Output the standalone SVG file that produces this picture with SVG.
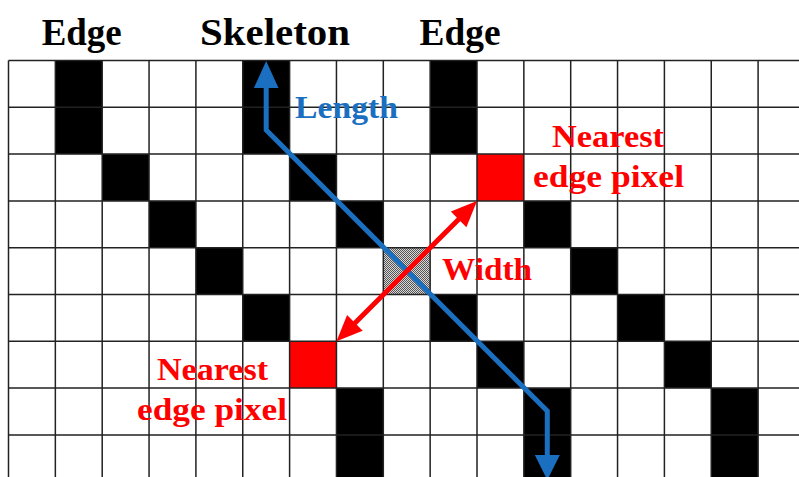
<svg xmlns="http://www.w3.org/2000/svg" width="799" height="477" viewBox="0 0 799 477">
  <defs>
    <pattern id="dither" x="0" y="0" width="2" height="2" patternUnits="userSpaceOnUse">
      <rect width="2" height="2" fill="#d8d8d8"/>
      <rect width="1" height="1" fill="#555"/>
      <rect x="1" y="1" width="1" height="1" fill="#555"/>
    </pattern>
  </defs>
  <style>
    .blk { fill: #000; }
    .red { fill: #ff0000; }
    .grid { stroke: #222; stroke-width: 1.5; fill: none; }
    .hdr { font-family: "Liberation Serif", "Times New Roman", serif; font-weight: bold; font-size: 38px; fill: #000; }
    .lbl { font-family: "Liberation Serif", "Times New Roman", serif; font-weight: bold; font-size: 32px; }
    .rtxt { fill: #ff0000; }
    .btxt { fill: #1b6fc0; }
  </style>
  <rect width="799" height="477" fill="#fff"/>

  <!-- cells -->
  <g id="edge-left">
    <rect class="blk" x="55.35" y="60.5" width="46.85" height="93.6"/>
    <rect class="blk" x="102.2" y="154.1" width="46.85" height="46.8"/>
    <rect class="blk" x="149.05" y="200.9" width="46.85" height="46.8"/>
    <rect class="blk" x="195.9" y="247.7" width="46.85" height="46.8"/>
    <rect class="blk" x="242.75" y="294.5" width="46.85" height="46.8"/>
    <rect class="red" x="289.6" y="341.3" width="46.85" height="46.8"/>
    <rect class="blk" x="336.45" y="388.1" width="46.85" height="95"/>
  </g>
  <g id="skeleton">
    <rect class="blk" x="242.75" y="60.5" width="46.85" height="93.6"/>
    <rect class="blk" x="289.6" y="154.1" width="46.85" height="46.8"/>
    <rect class="blk" x="336.45" y="200.9" width="46.85" height="46.8"/>
    <rect fill="url(#dither)" x="383.3" y="247.7" width="46.85" height="46.8"/>
    <rect class="blk" x="430.15" y="294.5" width="46.85" height="46.8"/>
    <rect class="blk" x="477" y="341.3" width="46.85" height="46.8"/>
    <rect class="blk" x="523.85" y="388.1" width="46.85" height="95"/>
  </g>
  <g id="edge-right">
    <rect class="blk" x="430.15" y="60.5" width="46.85" height="93.6"/>
    <rect class="red" x="477" y="154.1" width="46.85" height="46.8"/>
    <rect class="blk" x="523.85" y="200.9" width="46.85" height="46.8"/>
    <rect class="blk" x="570.7" y="247.7" width="46.85" height="46.8"/>
    <rect class="blk" x="617.55" y="294.5" width="46.85" height="46.8"/>
    <rect class="blk" x="664.4" y="341.3" width="46.85" height="46.8"/>
    <rect class="blk" x="711.25" y="388.1" width="46.85" height="95"/>
  </g>

  <!-- grid -->
  <g id="grid" class="grid">
    <path d="M8.5,60.5V480 M55.35,60.5V480 M102.2,60.5V480 M149.05,60.5V480 M195.9,60.5V480 M242.75,60.5V480 M289.6,60.5V480 M336.45,60.5V480 M383.3,60.5V480 M430.15,60.5V480 M477,60.5V480 M523.85,60.5V480 M570.7,60.5V480 M617.55,60.5V480 M664.4,60.5V480 M711.25,60.5V480 M758.1,60.5V480"/>
    <path d="M8.5,60.5H802 M8.5,107.3H802 M8.5,154.1H802 M8.5,200.9H802 M8.5,247.7H802 M8.5,294.5H802 M8.5,341.3H802 M8.5,388.1H802 M8.5,434.9H802"/>
  </g>

  <!-- connectors -->
  <g id="connectors">
    <g id="length-arrow" fill="#1b6fc0">
      <polyline points="266.2,86 266.2,130 547.3,411 547.3,457" fill="none" stroke="#1b6fc0" stroke-width="5" stroke-linejoin="miter"/>
      <polygon points="266.2,61 278.5,88 253.9,88"/>
      <polygon points="534.8,455 559.8,455 547.3,480"/>
    </g>
    <g id="width-arrow" fill="#ff0000">
      <line x1="461" y1="217" x2="352.5" y2="325.5" stroke="#ff0000" stroke-width="5"/>
      <polygon points="477,201 466.4,227.2 450.8,211.6"/>
      <polygon points="336.5,341.3 362.7,330.7 347.1,315.1"/>
    </g>
  </g>

  <!-- labels -->
  <g id="labels">
    <text class="hdr" x="41.7" y="45" textLength="80" lengthAdjust="spacingAndGlyphs">Edge</text>
    <text class="hdr" x="200" y="45" textLength="150" lengthAdjust="spacingAndGlyphs">Skeleton</text>
    <text class="hdr" x="419.5" y="45" textLength="81" lengthAdjust="spacingAndGlyphs">Edge</text>
    <text class="lbl btxt" x="295" y="118" textLength="103" lengthAdjust="spacingAndGlyphs">Length</text>
    <text class="lbl rtxt" x="442" y="280" font-size="34" textLength="90" lengthAdjust="spacingAndGlyphs">Width</text>
    <text class="lbl rtxt" x="552" y="147" textLength="112" lengthAdjust="spacingAndGlyphs">Nearest</text>
    <text class="lbl rtxt" x="533" y="187" textLength="151" lengthAdjust="spacingAndGlyphs">edge pixel</text>
    <text class="lbl rtxt" x="157" y="380" textLength="111" lengthAdjust="spacingAndGlyphs">Nearest</text>
    <text class="lbl rtxt" x="137" y="420" textLength="150" lengthAdjust="spacingAndGlyphs">edge pixel</text>
  </g>
</svg>
